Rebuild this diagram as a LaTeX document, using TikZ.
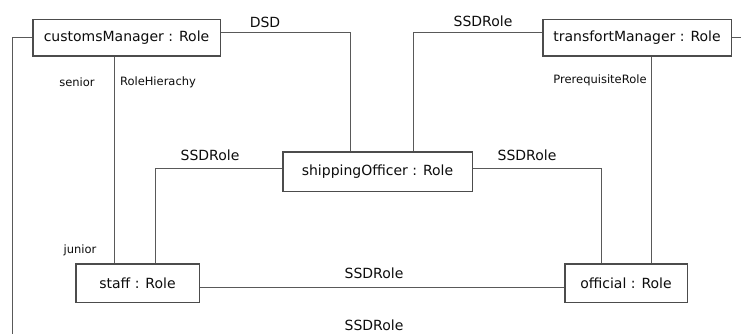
\documentclass[tikz,border=0pt]{standalone}
\usepackage{fontspec}
\setmainfont{DejaVu Sans}
\begin{document}
\begin{tikzpicture}[x=1pt,y=-1pt,
  role/.style={draw=black!70,line width=1pt,fill=white,inner sep=0pt,font=\fontsize{14}{16}\selectfont,text=black!95},
  conn/.style={draw=black!65,line width=1pt},
  lbl/.style={inner sep=0pt,font=\fontsize{14}{16}\selectfont,text=black!95},
  slbl/.style={inner sep=0pt,font=\fontsize{11.5}{13}\selectfont,text=black!95}]
\useasboundingbox (0,0) rectangle (741,334);
\fill[white] (0,0) rectangle (741,334);
% nodes
\node[role,minimum width=187pt,minimum height=36pt] (cm) at (126.5,38) {customsManager : Role};
\node[role,minimum width=188pt,minimum height=36pt] (tm) at (637,38) {transfortManager : Role};
\node[role,minimum width=189pt,minimum height=39pt] (so) at (377.5,171.5) {shippingOfficer : Role};
\node[role,minimum width=123pt,minimum height=38pt] (st) at (137.5,283) {staff : Role};
\node[role,minimum width=122pt,minimum height=38pt] (of) at (626,283) {official : Role};
% junction coordinates
\coordinate (lfTop) at (12,38);
\coordinate (lfBot) at (12,334);
\coordinate (dsdC) at (350,33);
\coordinate (rhX) at (114,0);
\coordinate (ssdL) at (155,168);
\coordinate (ssdR) at (601,168);
\coordinate (ssdT) at (413,33);
\coordinate (rtEnd) at (741,38);
\coordinate (prX) at (651,0);
\coordinate (midY) at (0,287);
% connectors
\draw[conn] (cm.west) -- (lfTop) -- (lfBot);
\draw[conn] (cm.east |- dsdC) -- (dsdC) -- (dsdC |- so.north);
\draw[conn] (rhX |- cm.south) -- (rhX |- st.north);
\draw[conn] (ssdL |- st.north) -- (ssdL) -- (ssdL -| so.west);
\draw[conn] (ssdR -| so.east) -- (ssdR) -- (ssdR |- of.north);
\draw[conn] (ssdT |- so.north) -- (ssdT) -- (ssdT -| tm.west);
\draw[conn] (tm.east) -- (rtEnd);
\draw[conn] (prX |- tm.south) -- (prX |- of.north);
\draw[conn] (st.east |- midY) -- (of.west |- midY);
% redraw boxes on top
\foreach \n in {cm,tm,so,st,of} {\draw[draw=black!70,line width=1pt] (\n.north west) rectangle (\n.south east);}
% labels
\node[lbl] (l1) at (265,22) {DSD};
\node[lbl] (l2) at (483,21) {SSDRole};
\node[slbl] (l3) at (77,82) {senior};
\node[slbl] (l4) at (158,82) {RoleHierachy};
\node[slbl] (l5) at (600,80) {PrerequisiteRole};
\node[slbl] (l6) at (80,250) {junior};
\node[lbl] (l7) at (210,155) {SSDRole};
\node[lbl] (l8) at (527,155) {SSDRole};
\node[lbl] (l9) at (374,273) {SSDRole};
\node[lbl] (l10) at (374,325) {SSDRole};
\end{tikzpicture}
\end{document}
